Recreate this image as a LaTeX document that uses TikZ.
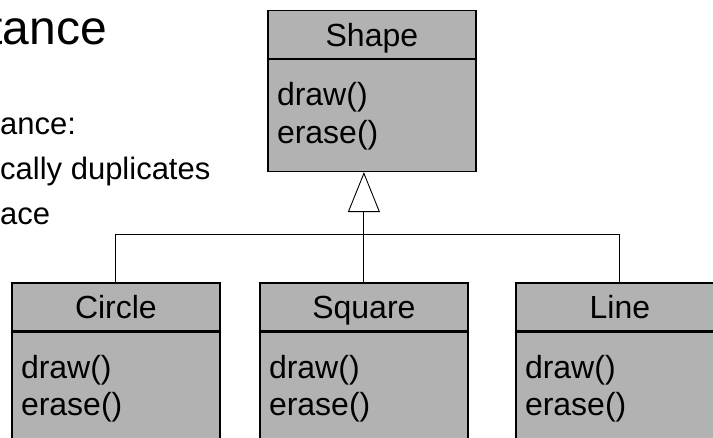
\documentclass[tikz,border=0pt]{standalone}
\usepackage{fontspec}
\setmainfont{Liberation Sans}
\usetikzlibrary{arrows.meta}
\definecolor{boxgray}{RGB}{178,178,178}

% One UML class: #1 node name, #2 left x, #3 top y, #4 title, #5 body height
\newcommand\umlclass[5]{%
  \node[classhead] (#1) at (#2,#3) {#4};
  \node[classbody, minimum height=#5] (#1-body) at (#1.south west) {};
  \node[method] (#1-draw)  at ([xshift=9.5pt,yshift=-46.6pt]#1-body.north west) {draw()};
  \node[method] (#1-erase) at ([xshift=9.5pt,yshift=-84.2pt]#1-body.north west) {erase()};
}

\begin{document}
\begin{tikzpicture}[x=1pt,y=-1pt,
  classhead/.style={draw=black, fill=boxgray, line width=1.2pt, anchor=north west,
    minimum width=208pt, minimum height=48pt, inner sep=0pt,
    text height=23.5pt, text depth=0pt, font=\fontsize{32}{37}\selectfont},
  classbody/.style={draw=black, fill=boxgray, line width=1.2pt, anchor=north west,
    minimum width=208pt, inner sep=0pt},
  method/.style={anchor=base west, inner sep=0pt, font=\fontsize{32}{37}\selectfont},
  slidetext/.style={anchor=base west, inner sep=0pt, font=\fontsize{31}{36}\selectfont},
  link/.style={draw=black, line width=0.9pt}]
\useasboundingbox (0,0) rectangle (713,437);
\clip (0,0) rectangle (713,437);

% slide text partly hidden behind the left margin
\node[anchor=base east, inner sep=0pt, font=\fontsize{48}{53}\selectfont] (title) at (107,44) {tance};
\node[slidetext] (txt1) at (0,134) {ance:};
\node[slidetext] (txt2) at (0,179) {cally duplicates};
\node[slidetext] (txt3) at (0,224) {ace};

% classes
\umlclass{shape}{267.3}{10}{Shape}{111.7}
\umlclass{circ}{11.3}{282.3}{Circle}{130}
\umlclass{sq}{259.3}{282.3}{Square}{130}
\umlclass{ln}{515.3}{282.3}{Line}{130}

% generalization: subclasses joined on a common bus
\path (circ.north) ++(0,-47.8) coordinate (busL);
\draw[link] (circ.north) -- (busL) -| (ln.north);
\draw[link, -{Triangle[open, length=40pt, width=32pt, fill=white]}]
  (sq.north) -- (sq.north |- shape-body.south);
\end{tikzpicture}
\end{document}
